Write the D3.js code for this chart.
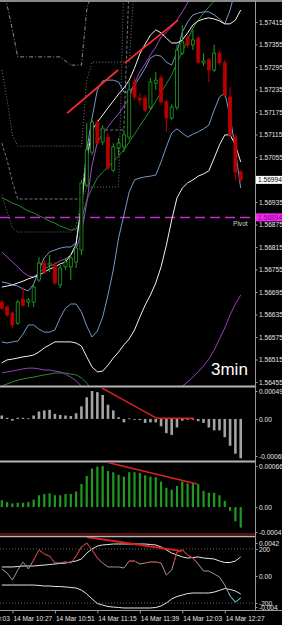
<!DOCTYPE html>
<html>
<head>
<meta charset="utf-8">
<script src="https://cdn.jsdelivr.net/npm/d3@7"></script>
<style>
  html, body { margin: 0; padding: 0; background: #000; overflow: hidden; }
  svg { display: block; }
  text { font-family: "Liberation Sans", Arial, sans-serif; }
</style>
</head>
<body>
<svg id="chart" width="282" height="625"></svg>
<script>
// ---- data ----
const timeLabels = ['14 Mar 10:03', '14 Mar 10:27', '14 Mar 10:51', '14 Mar 11:15', '14 Mar 11:39', '14 Mar 12:03', '14 Mar 12:27'];
const timeBars = [-6, 2, 10, 18, 26, 34, 42];

const priceTicks = [1.57415, 1.57355, 1.57295, 1.57235, 1.57175, 1.57115, 1.57055, 1.56935,
  1.56875, 1.56815, 1.56755, 1.56695, 1.56635, 1.56575, 1.56515, 1.56455];
const pivotPrice = 1.56894;

const openP = [1.56668, 1.56655, 1.56639, 1.56612, 1.56676, 1.56668, 1.56668, 1.56727, 1.56772, 1.56767,
  1.56767, 1.56714, 1.56762, 1.56762, 1.56775, 1.56807, 1.56980, 1.57068, 1.57148, 1.57095,
  1.57108, 1.57020, 1.57079, 1.57082, 1.57108, 1.57255, 1.57212, 1.57212, 1.57186, 1.57252,
  1.57266, 1.57202, 1.57159, 1.57188, 1.57332, 1.57372, 1.57354, 1.57372, 1.57306, 1.57314,
  1.57287, 1.57332, 1.57306, 1.57215, 1.57108, 1.57015];
const highP = [1.56674, 1.56660, 1.56642, 1.56674, 1.56708, 1.56679, 1.56714, 1.56788, 1.56780, 1.56794,
  1.56775, 1.56767, 1.56786, 1.56796, 1.56820, 1.56994, 1.57146, 1.57154, 1.57154, 1.57140,
  1.57119, 1.57092, 1.57106, 1.57127, 1.57255, 1.57268, 1.57226, 1.57220, 1.57266, 1.57282,
  1.57274, 1.57207, 1.57196, 1.57354, 1.57407, 1.57380, 1.57394, 1.57378, 1.57332, 1.57319,
  1.57354, 1.57340, 1.57314, 1.57242, 1.57114, 1.57020];
const lowP = [1.56647, 1.56628, 1.56599, 1.56607, 1.56655, 1.56655, 1.56655, 1.56722, 1.56743, 1.56748,
  1.56714, 1.56706, 1.56754, 1.56727, 1.56759, 1.56794, 1.56975, 1.57060, 1.57087, 1.57087,
  1.57020, 1.57015, 1.57060, 1.57068, 1.57100, 1.57207, 1.57194, 1.57175, 1.57180, 1.57234,
  1.57194, 1.57122, 1.57154, 1.57180, 1.57327, 1.57346, 1.57340, 1.57303, 1.57298, 1.57255,
  1.57282, 1.57300, 1.57215, 1.57108, 1.56994, 1.56988];
const closeP = [1.56652, 1.56634, 1.56607, 1.56668, 1.56660, 1.56674, 1.56708, 1.56772, 1.56748, 1.56772,
  1.56719, 1.56759, 1.56775, 1.56786, 1.56812, 1.56986, 1.57074, 1.57148, 1.57092, 1.57132,
  1.57026, 1.57082, 1.57092, 1.57114, 1.57234, 1.57215, 1.57207, 1.57180, 1.57255, 1.57260,
  1.57202, 1.57159, 1.57188, 1.57340, 1.57362, 1.57354, 1.57367, 1.57308, 1.57311, 1.57287,
  1.57332, 1.57306, 1.57220, 1.57114, 1.57015, 1.56994];

const bbUpper = [1.56722, 1.56719, 1.56714, 1.56711, 1.56703, 1.56698, 1.56716, 1.56754, 1.56786, 1.56802,
  1.56807, 1.56812, 1.56815, 1.56815, 1.56826, 1.56927, 1.57074, 1.57159, 1.57234, 1.57258,
  1.57260, 1.57260, 1.57255, 1.57228, 1.57228, 1.57247, 1.57268, 1.57292, 1.57319, 1.57327,
  1.57324, 1.57308, 1.57300, 1.57335, 1.57388, 1.57415, 1.57434, 1.57439, 1.57442, 1.57442,
  1.57434, 1.57423, 1.57410, 1.57447, 1.57500, 1.57567];
const bbLower = [1.56562, 1.56559, 1.56562, 1.56564, 1.56583, 1.56607, 1.56607, 1.56596, 1.56588, 1.56588,
  1.56594, 1.56626, 1.56652, 1.56663, 1.56663, 1.56642, 1.56604, 1.56575, 1.56591, 1.56628,
  1.56687, 1.56754, 1.56839, 1.56900, 1.56962, 1.56994, 1.56999, 1.57002, 1.57004, 1.57007,
  1.57042, 1.57082, 1.57119, 1.57130, 1.57119, 1.57108, 1.57116, 1.57122, 1.57130, 1.57140,
  1.57180, 1.57215, 1.57226, 1.57164, 1.57074, 1.56972];
const whiteUpper = [1.56708, 1.56711, 1.56714, 1.56719, 1.56724, 1.56730, 1.56735, 1.56740, 1.56748, 1.56756,
  1.56762, 1.56770, 1.56775, 1.56794, 1.56823, 1.56927, 1.57047, 1.57127, 1.57148, 1.57167,
  1.57186, 1.57204, 1.57223, 1.57239, 1.57260, 1.57292, 1.57330, 1.57356, 1.57380, 1.57394,
  1.57386, 1.57372, 1.57359, 1.57359, 1.57367, 1.57386, 1.57407, 1.57418, 1.57423, 1.57426,
  1.57423, 1.57418, 1.57410, 1.57410, 1.57420, 1.57447];
const whiteLower = [1.56506, 1.56514, 1.56516, 1.56519, 1.56522, 1.56524, 1.56527, 1.56535, 1.56546, 1.56554,
  1.56562, 1.56562, 1.56562, 1.56562, 1.56559, 1.56551, 1.56522, 1.56495, 1.56482, 1.56484,
  1.56500, 1.56519, 1.56535, 1.56554, 1.56570, 1.56594, 1.56628, 1.56660, 1.56687, 1.56719,
  1.56762, 1.56820, 1.56887, 1.56946, 1.56972, 1.56986, 1.56994, 1.57004, 1.57010, 1.57018,
  1.57052, 1.57087, 1.57114, 1.57114, 1.57087, 1.57042];
const purpleMa = [1.56802, 1.56788, 1.56775, 1.56762, 1.56748, 1.56738, 1.56735, 1.56748, 1.56756, 1.56764,
  1.56770, 1.56778, 1.56783, 1.56794, 1.56810, 1.56852, 1.56932, 1.57034, 1.57095, 1.57116,
  1.57135, 1.57154, 1.57170, 1.57191, 1.57212, 1.57252, 1.57282, 1.57303, 1.57327, 1.57348,
  1.57375, 1.57388, 1.57402, 1.57420, 1.57442, 1.57466, 1.57490, 1.57511, 1.57527, 1.57540,
  1.57548, 1.57554, 1.57554, 1.57548, 1.57540, 1.57532];
const purpleLower = [1.56479, 1.56482, 1.56484, 1.56487, 1.56490, 1.56492, 1.56492, 1.56490, 1.56487, 1.56487,
  1.56484, 1.56482, 1.56476, 1.56468, 1.56458, 1.56444, 1.56420, 1.56394, 1.56375, 1.56364,
  1.56359, 1.56356, 1.56356, 1.56359, 1.56362, 1.56367, 1.56375, 1.56380, 1.56386, 1.56394,
  1.56402, 1.56410, 1.56420, 1.56434, 1.56444, 1.56455, 1.56468, 1.56482, 1.56498, 1.56516,
  1.56540, 1.56570, 1.56599, 1.56634, 1.56663, 1.56687];
const greenMa = [1.56946, 1.56940, 1.56932, 1.56927, 1.56919, 1.56911, 1.56906, 1.56898, 1.56892, 1.56884,
  1.56879, 1.56871, 1.56866, 1.56860, 1.56863, 1.56887, 1.56940, 1.56972, 1.56999, 1.57015,
  1.57028, 1.57042, 1.57058, 1.57074, 1.57095, 1.57116, 1.57138, 1.57159, 1.57180, 1.57204,
  1.57228, 1.57250, 1.57274, 1.57306, 1.57335, 1.57367, 1.57399, 1.57420, 1.57439, 1.57455,
  1.57471, 1.57484, 1.57495, 1.57500, 1.57500, 1.57495];
const greenLower = [1.56444, 1.56450, 1.56455, 1.56460, 1.56463, 1.56466, 1.56468, 1.56471, 1.56474, 1.56476,
  1.56479, 1.56479, 1.56479, 1.56476, 1.56474, 1.56466, 1.56452, 1.56434, 1.56418, 1.56407,
  1.56399, 1.56391, 1.56386, 1.56380, 1.56378, 1.56375, 1.56375, 1.56375, 1.56375, 1.56378,
  1.56380, 1.56383, 1.56386, 1.56391, 1.56396, 1.56402, 1.56407, 1.56412, 1.56418, 1.56423,
  1.56428, 1.56434, 1.56439, 1.56442, 1.56442, 1.56439];

// step-like channel lines, [bar, price]
const envA = [[0, 1.57527], [1, 1.57460], [2, 1.57394], [3, 1.57322], [11, 1.57322], [13, 1.57300], [15, 1.57300], [16, 1.57447], [17, 1.57500]];
const envB = [[0, 1.57287], [1, 1.57207], [2, 1.57114], [3, 1.57084], [15, 1.57084], [16, 1.57260], [17, 1.57308], [24, 1.57308], [25, 1.57527]];
const envC = [[0, 1.57092], [1, 1.57047], [2, 1.56988], [3, 1.56943], [15, 1.56943], [16, 1.57074], [17, 1.57127], [23, 1.57127], [24, 1.57527]];
const envD = [[0, 1.56954], [1, 1.56908], [2, 1.56866], [3, 1.56855], [13, 1.56855], [14, 1.56874], [15, 1.56940], [16, 1.56975], [22, 1.56975], [23, 1.57527]];

const trendMain = [[[12.3, 1.57172], [21.9, 1.57287]], [[23.2, 1.57306], [33.2, 1.57420]]];

const macdHist = [6e-5, 2e-5, -3e-5, 2e-5, 2e-5, 1e-5, 6e-5, 13e-5, 15e-5, 16e-5,
  9e-5, 7e-5, 6e-5, 5e-5, 10e-5, 22e-5, 38e-5, 49e-5, 47e-5, 42e-5,
  25e-5, 15e-5, 3e-5, -6e-5, 1e-5, -1e-5, -2e-5, -7e-5, -6e-5, -6e-5,
  -13e-5, -25e-5, -28e-5, -15e-5, -3e-5, -1e-5, -1e-5, -4e-5, -7e-5, -15e-5,
  -20e-5, -20e-5, -32e-5, -47e-5, -61e-5, -69e-5];
const macdTicks = [0.00049, 0, -0.00065];
const macdTickText = ['0.00049', '0.00', '-0.00065'];
const trendMacd = [[18.9, 0.00054], [29.2, 0.00001], [36.2, 0.00001]];

const oscHist = [11e-5, 8e-5, 6e-5, 7e-5, 7e-5, 8e-5, 12e-5, 19e-5, 21e-5, 22e-5,
  19e-5, 19e-5, 21e-5, 21e-5, 25e-5, 37e-5, 50e-5, 62e-5, 65e-5, 66e-5,
  58e-5, 56e-5, 52e-5, 49e-5, 56e-5, 56e-5, 55e-5, 51e-5, 49e-5, 48e-5,
  41e-5, 31e-5, 28e-5, 34e-5, 41e-5, 38e-5, 38e-5, 37e-5, 26e-5, 23e-5,
  23e-5, 19e-5, 10e-5, -6e-5, -23e-5, -33e-5];
const oscTicks = [0.00066, 0, -0.0004];
const oscTickText = ['0.00066', '0.00', '-0.0004'];
const trendOsc = [[19.8, 0.00072], [36.8, 0.00037]];

const cci = [52, 22, -30, 44, 104, 52, 118, 193, 163, 148, 96, 96, 104, 96, 148, 215, 244, 193, 133, 96,
  67, 67, 67, 59, 111, 111, 89, 96, 104, 104, 96, 7, 44, 178, 193, 156, 133, 89, 37, 37,
  15, -7, -67, -148, -193, -163];
const cciUpper = [67, 67, 67, 70, 74, 74, 74, 78, 81, 85, 89, 93, 96, 104, 111, 126, 170, 200, 222, 230,
  233, 237, 237, 237, 237, 237, 237, 237, 233, 230, 215, 193, 170, 156, 141, 133, 137, 141, 133, 130,
  126, 111, 100, 100, 111, 141];
const cciLower = [-67, -67, -67, -67, -67, -67, -67, -70, -74, -74, -78, -78, -81, -85, -89, -104, -133, -170, -204, -215,
  -226, -230, -233, -237, -237, -237, -237, -237, -237, -233, -222, -200, -170, -152, -141, -130, -126, -126, -126, -126,
  -119, -107, -93, -100, -111, -133];
const cciTicks = [200, 0, -200];
const cciTickText = ['200', '0.00', '-200'];
const oscB_ticks = [0.0042, -0.004];
const oscB_text = ['0.0042', '-0.004'];
const trendCci = [[16.0, 289], [33.9, 185]];

// ---- layout ----
const width = 282, height = 625, plotRight = 255;
const svg = d3.select('#chart');
svg.append('rect').attr('width', width).attr('height', height).attr('fill', '#000');

const x = d3.scaleLinear().domain([0, 45]).range([1.8, 240.7]);
const yMain = d3.scaleLinear().domain([1.56455, 1.57415]).range([382, 22]);
const yMacd = d3.scaleLinear().domain([-0.00065, 0.00049]).range([456, 391]);
const yOsc = d3.scaleLinear().domain([-0.0004, 0.00066]).range([532, 466]);
const yCci = d3.scaleLinear().domain([-200, 200]).range([603, 549]);
const yCciB = d3.scaleLinear().domain([-0.004, 0.0042]).range([607, 543]);

let defs = svg.append('defs');
function clip(id, y0, y1) {
  defs.append('clipPath').attr('id', id)
    .append('rect').attr('x', 0).attr('y', y0).attr('width', plotRight).attr('height', y1 - y0);
  return svg.append('g').attr('clip-path', `url(#${id})`);
}

const gMain = clip('clip-main', 2, 386);
const gMacd = clip('clip-macd', 388, 461);
const gOsc = clip('clip-osc', 463, 534);
const gCci = clip('clip-cci', 537, 609);

function series(g, values, y, color, w, dash) {
  let line = d3.line().x((d, i) => x(i)).y(d => y(d));
  g.append('path').datum(values)
    .attr('d', line).attr('fill', 'none')
    .attr('stroke', color).attr('stroke-width', w)
    .attr('stroke-dasharray', dash || null);
}

function poly(g, pts, y, color, w, dash) {
  let line = d3.line().x(d => x(d[0])).y(d => y(d[1]));
  g.append('path').datum(pts)
    .attr('d', line).attr('fill', 'none')
    .attr('stroke', color).attr('stroke-width', w)
    .attr('stroke-dasharray', dash || null);
}

// channel lines
poly(gMain, envA, yMain, '#8c8c8c', 1, '4,2,1,2');
poly(gMain, envB, yMain, '#777', 1, '1,2');
poly(gMain, envC, yMain, '#777', 1, '3,2');
poly(gMain, envD, yMain, '#777', 1, '1,2');

// pivot
gMain.append('line')
  .attr('x1', 0).attr('x2', plotRight)
  .attr('y1', yMain(pivotPrice)).attr('y2', yMain(pivotPrice))
  .attr('stroke', '#c22fc8').attr('stroke-width', 1.5)
  .attr('stroke-dasharray', '10,5');

// bands and averages
series(gMain, greenLower, yMain, '#2b8a2b', 1);
series(gMain, purpleLower, yMain, '#9b3fb8', 1);
series(gMain, greenMa, yMain, '#2b8a2b', 1);
series(gMain, purpleMa, yMain, '#a347c8', 1);
series(gMain, bbLower, yMain, '#7898cc', 1);
series(gMain, bbUpper, yMain, '#7898cc', 1);
series(gMain, whiteLower, yMain, '#f2f2f2', 1);
series(gMain, whiteUpper, yMain, '#f2f2f2', 1);

// candles
let candles = gMain.selectAll('g.candle')
  .data(d3.range(openP.length))
  .join('g')
  .attr('class', 'candle');

candles.append('line')
  .attr('x1', i => x(i)).attr('x2', i => x(i))
  .attr('y1', i => yMain(highP[i])).attr('y2', i => yMain(lowP[i]))
  .attr('stroke', i => closeP[i] >= openP[i] ? '#1fa01f' : '#b80000')
  .attr('stroke-width', 1);

candles.append('rect')
  .attr('x', i => x(i) - 1.5)
  .attr('y', i => yMain(Math.max(openP[i], closeP[i])))
  .attr('width', 3)
  .attr('height', i => Math.max(1, Math.abs(yMain(openP[i]) - yMain(closeP[i]))))
  .attr('fill', i => closeP[i] >= openP[i] ? '#000' : '#b80000')
  .attr('stroke', i => closeP[i] >= openP[i] ? '#1fa01f' : '#b80000')
  .attr('stroke-width', 0.8);

// red trend lines
trendMain.forEach(t => poly(gMain, t, yMain, '#ff2a2a', 1.8));

gMain.append('text')
  .text('3min')
  .attr('x', 211).attr('y', 375)
  .attr('fill', '#fff')
  .style('font-size', '17px');

gMain.append('text')
  .text('Pivot')
  .attr('x', 233).attr('y', 226)
  .attr('fill', '#cfcfcf')
  .style('font-size', '6.6px');

// MACD-like histogram
gMacd.selectAll('rect')
  .data(macdHist)
  .join('rect')
  .attr('x', (d, i) => x(i) - 1.3)
  .attr('y', d => yMacd(Math.max(0, d)))
  .attr('width', 2.6)
  .attr('height', d => Math.max(0.8, Math.abs(yMacd(d) - yMacd(0))))
  .attr('fill', '#a3a3a3');
poly(gMacd, trendMacd, yMacd, '#e02020', 1.5);

// green oscillator
gOsc.selectAll('rect')
  .data(oscHist)
  .join('rect')
  .attr('x', (d, i) => x(i) - 1.1)
  .attr('y', d => yOsc(Math.max(0, d)))
  .attr('width', 2.2)
  .attr('height', d => Math.max(0.8, Math.abs(yOsc(d) - yOsc(0))))
  .attr('fill', '#1f9b1f');
poly(gOsc, trendOsc, yOsc, '#e02020', 1.5);

// cci panel
[200, -200].forEach(v => {
  gCci.append('line')
    .attr('x1', 0).attr('x2', plotRight)
    .attr('y1', yCci(v)).attr('y2', yCci(v))
    .attr('stroke', '#666').attr('stroke-dasharray', '1,2');
});
series(gCci, cciUpper, yCci, '#e6e6e6', 1);
series(gCci, cciLower, yCci, '#e6e6e6', 1);
series(gCci, cci, yCci, '#9a9a9a', 1);

defs.append('clipPath').attr('id', 'clip-hi')
  .append('rect').attr('x', 0).attr('y', 537).attr('width', plotRight).attr('height', yCci(100) - 537);
defs.append('clipPath').attr('id', 'clip-lo')
  .append('rect').attr('x', 0).attr('y', yCci(-130)).attr('width', plotRight).attr('height', 609 - yCci(-130));
series(gCci.append('g').attr('clip-path', 'url(#clip-hi)'), cci, yCci, '#d02020', 1);
series(gCci.append('g').attr('clip-path', 'url(#clip-lo)'), cci, yCci, '#3cc0d0', 1);
poly(gCci, trendCci, yCci, '#e02020', 1.8);

// frame
const frame = svg.append('g');
frame.append('rect').attr('x', 0).attr('y', 0).attr('width', width).attr('height', 2).attr('fill', '#8a8a8a');
[386.5, 461.5].forEach(yy => {
  frame.append('line').attr('x1', 0).attr('x2', plotRight).attr('y1', yy).attr('y2', yy)
    .attr('stroke', '#b5b5b5').attr('stroke-width', 2);
});
frame.append('line').attr('x1', 0).attr('x2', plotRight).attr('y1', 534).attr('y2', 534)
  .attr('stroke', '#8a1010').attr('stroke-width', 1.5);
frame.append('line').attr('x1', 0).attr('x2', plotRight).attr('y1', 536.5).attr('y2', 536.5)
  .attr('stroke', '#b5b5b5').attr('stroke-width', 1.5);
frame.append('line').attr('x1', 0).attr('x2', width).attr('y1', 610.5).attr('y2', 610.5)
  .attr('stroke', '#9a9a9a').attr('stroke-width', 1);
frame.append('line').attr('x1', plotRight + 0.5).attr('x2', plotRight + 0.5).attr('y1', 0).attr('y2', 611)
  .attr('stroke', '#9a9a9a').attr('stroke-width', 1);

// axes
function rightAxis(scale, ticks, labels) {
  let ax = d3.axisRight(scale).tickValues(ticks).tickSize(2).tickPadding(1.5);
  if (labels) ax.tickFormat((d, i) => labels[i]);
  let g = svg.append('g').attr('transform', `translate(${plotRight + 0.5},0)`).call(ax);
  g.select('.domain').remove();
  g.selectAll('line').attr('stroke', '#9a9a9a');
  g.selectAll('text').attr('fill', '#e6e6e6').style('font-size', '6.6px')
    .style('font-family', '"Liberation Sans", Arial, sans-serif');
  return g;
}

rightAxis(yMain, priceTicks, priceTicks.map(d3.format('.5f')));
rightAxis(yMacd, macdTicks, macdTickText);
rightAxis(yOsc, oscTicks, oscTickText);
rightAxis(yCci, cciTicks, cciTickText);
rightAxis(yCciB, oscB_ticks, oscB_text);

// price boxes
function priceBox(price, fill, color) {
  let yy = yMain(price);
  svg.append('rect').attr('x', plotRight + 1).attr('y', yy - 4).attr('width', 26).attr('height', 8).attr('fill', fill);
  svg.append('text').text(d3.format('.5f')(price))
    .attr('x', plotRight + 3).attr('y', yy + 2.4)
    .attr('fill', color).style('font-size', '6.6px');
}
priceBox(closeP[closeP.length - 1], '#fff', '#000');
priceBox(pivotPrice, '#f028f0', '#8a008a');

// time axis
let tAxis = d3.axisBottom(x).tickValues(timeBars).tickSize(3).tickPadding(3)
  .tickFormat((d, i) => timeLabels[i]);
let tg = svg.append('g').attr('transform', 'translate(0,610.5)').call(tAxis);
tg.select('.domain').remove();
tg.selectAll('line').attr('stroke', '#9a9a9a');
tg.selectAll('text')
  .attr('text-anchor', 'start')
  .attr('dx', 0.5)
  .attr('fill', '#e6e6e6')
  .style('font-size', '6.6px')
  .style('font-family', '"Liberation Sans", Arial, sans-serif');
</script>
</body>
</html>
